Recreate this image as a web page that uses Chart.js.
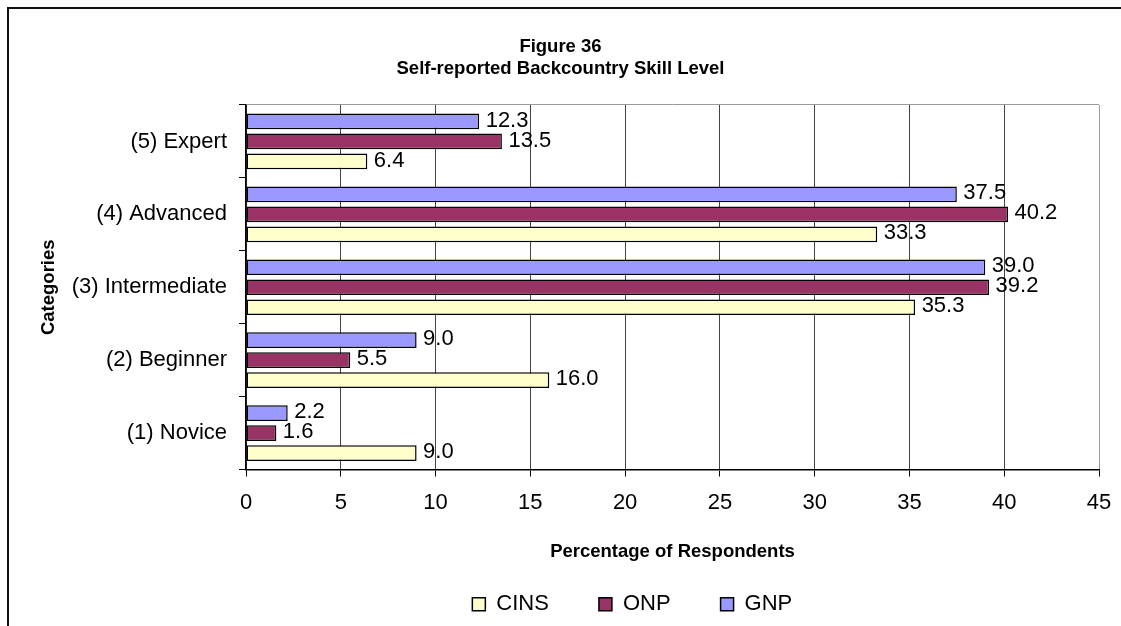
<!DOCTYPE html>
<html>
<head>
<meta charset="utf-8">
<title>Figure 36 – Self-reported Backcountry Skill Level</title>
<script src="https://cdn.jsdelivr.net/npm/chart.js@4.4.1/dist/chart.umd.min.js"></script>
<style>
  html, body { margin: 0; padding: 0; background: #fff; overflow: hidden; }
  #wrap { position: relative; width: 1121px; height: 626px; }
  #frame {
    position: absolute; left: 7px; top: 7px; width: 1300px; height: 800px;
    border-left: 2px solid #111; border-top: 2px solid #111;
  }
  #chart { position: absolute; left: 0; top: 0; }
</style>
</head>
<body>
<div id="wrap">
  <div id="frame"></div>
  <canvas id="chart" width="1121" height="626"></canvas>
</div>
<script>
// Skill categories, listed top to bottom as they appear on the axis
const categories = ['(5) Expert', '(4) Advanced', '(3) Intermediate', '(2) Beginner', '(1) Novice'];

// Percentage of respondents per park
const gnpValues  = [12.3, 37.5, 39.0, 9.0, 2.2];
const onpValues  = [13.5, 40.2, 39.2, 5.5, 1.6];
const cinsValues = [6.4, 33.3, 35.3, 16.0, 9.0];

// Value axis ticks
const xTicks = [0, 5, 10, 15, 20, 25, 30, 35, 40, 45];

const FONT = "'Liberation Sans', Arial, Helvetica, sans-serif";
const TEXT_SIZE = 22;
Chart.defaults.font.family = FONT;
Chart.defaults.font.size = TEXT_SIZE;
Chart.defaults.color = '#000';

const boldFont = { family: FONT, size: 18.5, weight: 'bold', lineHeight: 1.2 };

// Writes each bar's value just past its end
const valueLabels = {
  id: 'valueLabels',
  afterDatasetsDraw(chart) {
    const ctx = chart.ctx;
    ctx.save();
    ctx.font = TEXT_SIZE + 'px ' + FONT;
    ctx.fillStyle = '#000';
    ctx.textAlign = 'left';
    ctx.textBaseline = 'middle';
    chart.data.datasets.forEach((ds, i) => {
      const meta = chart.getDatasetMeta(i);
      if (meta.hidden) return;
      meta.data.forEach((bar, j) => {
        ctx.fillText(Number(ds.data[j]).toFixed(1), bar.x + 6.5, bar.y - 1);
      });
    });
    ctx.restore();
  }
};

// Places the legend row beneath the axis title
const legendPlacement = {
  id: 'legendPlacement',
  afterLayout(chart) {
    const lg = chart.legend;
    if (!lg) return;
    const dx = 71.8;
    lg.left += dx;
    lg.right += dx;
    lg.top = 543.3;
    lg.bottom = 626;
  }
};

new Chart(document.getElementById('chart'), {
  type: 'bar',
  data: {
    labels: categories,
    datasets: [
      { label: 'GNP',  data: gnpValues,  backgroundColor: '#9999FF' },
      { label: 'ONP',  data: onpValues,  backgroundColor: '#993366' },
      { label: 'CINS', data: cinsValues, backgroundColor: '#FFFFCC' }
    ]
  },
  options: {
    indexAxis: 'y',
    responsive: false,
    animation: false,
    layout: { padding: { left: 22, right: 22, top: 0, bottom: 0 } },
    datasets: {
      bar: {
        borderColor: '#000',
        borderWidth: 1.5,
        borderSkipped: false,
        categoryPercentage: 0.823,
        barPercentage: 0.785
      }
    },
    scales: {
      x: {
        min: 0,
        max: 45,
        afterBuildTicks(scale) { scale.ticks = xTicks.map(v => ({ value: v })); },
        afterFit(scale) {
          scale.height = 116.5;
          scale.paddingLeft = 0;
          scale.paddingRight = 0;
        },
        ticks: { padding: 13, font: { size: TEXT_SIZE }, color: '#000' },
        grid: {
          color: c => (c.tick && c.tick.value === 45) ? '#9a9a9a' : '#444',
          lineWidth: 1,
          tickColor: '#000',
          tickLength: 7,
          drawTicks: true
        },
        border: { color: '#000', width: 1.5 },
        title: {
          display: true,
          text: 'Percentage of Respondents',
          font: boldFont,
          color: '#000',
          padding: { top: 0, bottom: 23 }
        }
      },
      y: {
        afterFit(scale) { scale.width = 224; },
        ticks: { padding: 12, font: { size: TEXT_SIZE }, color: '#000' },
        grid: {
          offset: true,
          color: c => c.index === 0 ? '#9a9a9a' : 'rgba(0,0,0,0)',
          lineWidth: 1,
          tickColor: '#000',
          tickLength: 7,
          drawTicks: true
        },
        border: { color: '#000', width: 1.5 },
        title: {
          display: true,
          text: 'Categories',
          font: boldFont,
          color: '#000',
          padding: { top: 15.4, bottom: 0 }
        }
      }
    },
    plugins: {
      title: {
        display: true,
        text: ['Figure 36', 'Self-reported Backcountry Skill Level'],
        font: boldFont,
        color: '#000',
        padding: { top: 36, bottom: 24.6 }
      },
      legend: {
        position: 'bottom',
        reverse: true,
        maxHeight: 40,
        labels: {
          boxWidth: 13,
          boxHeight: 13,
          padding: 50,
          color: '#000',
          font: { size: TEXT_SIZE }
        }
      },
      tooltip: { enabled: false }
    }
  },
  plugins: [valueLabels, legendPlacement]
});
</script>
</body>
</html>
